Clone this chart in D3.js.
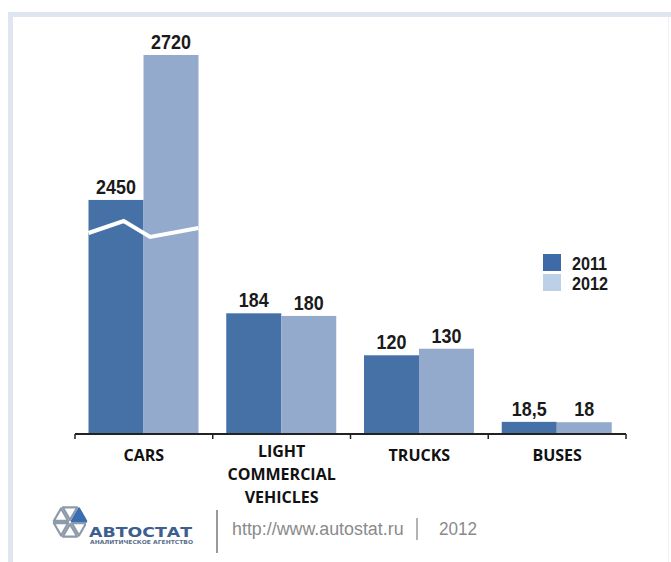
<!DOCTYPE html>
<html><head><meta charset="utf-8">
<script src="https://cdn.jsdelivr.net/npm/d3@7"></script>
<style>
html,body{margin:0;padding:0;background:#fff;}
svg{display:block;}
.val{font-family:"Liberation Sans",Arial,sans-serif;font-weight:700;fill:#1a1a1a;}
.cat{font-family:"Open Sans",sans-serif;font-weight:700;fill:#111;}
</style></head>
<body>
<svg id="chart" width="671" height="562"></svg>
<script>
// ---- data ----
const categories = ["CARS", "LIGHT COMMERCIAL VEHICLES", "TRUCKS", "BUSES"];
const categoryLines = [["CARS"], ["LIGHT", "COMMERCIAL", "VEHICLES"], ["TRUCKS"], ["BUSES"]];
const series = ["2011", "2012"];
const values2011 = [2450, 184, 120, 18.5];
const values2012 = [2720, 180, 130, 18];
const valueLabels2011 = ["2450", "184", "120", "18,5"];
const valueLabels2012 = ["2720", "180", "130", "18"];
const footerUrl = "http://www.autostat.ru";
const footerYear = "2012";

const colors = {"2011": "#4671a6", "2012": "#93aacd"};
const legendColors = {"2011": "#3f6aa8", "2012": "#bcd0e8"};

const svg = d3.select("#chart");
svg.append("rect").attr("width", 671).attr("height", 562).attr("fill", "#fff");

// frame
svg.append("rect").attr("x", 8).attr("y", 12).attr("width", 663).attr("height", 5).attr("fill", "#dfe6ef");
svg.append("rect").attr("x", 8).attr("y", 12).attr("width", 5).attr("height", 550).attr("fill", "#dfe6ef");
svg.append("rect").attr("x", 668).attr("y", 17).attr("width", 1).attr("height", 545).attr("fill", "#eef2f7");

// scales (broken value axis: lower segment and upper segment)
const x0 = d3.scaleBand().domain(categories).range([75, 626]).paddingInner(0).paddingOuter(0);
const x1 = d3.scaleBand().domain(series).range([13.5, 123.5]).padding(0);
const y = d3.scaleLinear().domain([0, 311, 2394, 2720]).range([434, 230, 230, 55]);

const rows = categories.map((c, i) => ({
  cat: c,
  vals: [
    {s: "2011", v: values2011[i], label: valueLabels2011[i]},
    {s: "2012", v: values2012[i], label: valueLabels2012[i]}
  ]
}));

const g = svg.append("g");
const groups = g.selectAll("g.grp").data(rows).join("g")
  .attr("class", "grp")
  .attr("transform", d => `translate(${x0(d.cat)},0)`);

groups.selectAll("rect").data(d => d.vals).join("rect")
  .attr("x", d => x1(d.s))
  .attr("y", d => y(d.v))
  .attr("width", x1.bandwidth())
  .attr("height", d => y(0) - y(d.v))
  .attr("fill", d => colors[d.s]);

groups.selectAll("text.val").data(d => d.vals).join("text")
  .attr("class", "val")
  .attr("transform", d => `translate(${x1(d.s) + x1.bandwidth() / 2},${y(d.v) - 6}) scale(0.92,1)`)
  .attr("text-anchor", "middle")
  .attr("font-size", 19.5)
  .text(d => d.label);

// axis break marker on CARS
const carsX = x0(categories[0]) + x1.range()[0];
const gw = x1.range()[1] - x1.range()[0];
const yb = y(311);
const breakPts = [[0, 3], [0.32, -9], [0.56, 7], [1, -2]];
svg.append("path")
  .attr("d", d3.line()(breakPts.map(p => [carsX + p[0] * gw, yb + p[1]])))
  .attr("fill", "none").attr("stroke", "#fff").attr("stroke-width", 4);

// x axis
const axis = svg.append("g").attr("transform", `translate(0,${y(0)})`);
axis.append("line").attr("x1", x0.range()[0]).attr("x2", x0.range()[1]).attr("y1", 0).attr("y2", 0)
  .attr("stroke", "#222").attr("stroke-width", 2);
const tickXs = categories.map(c => x0(c)).concat([x0.range()[1]]);
axis.selectAll("line.tick").data(tickXs).join("line").attr("class", "tick")
  .attr("x1", d => d).attr("x2", d => d).attr("y1", 0).attr("y2", 5)
  .attr("stroke", "#222").attr("stroke-width", 1.5);

// category labels
categoryLines.forEach((lines, i) => {
  const cx = x0(categories[i]) + x0.bandwidth() / 2;
  const base = lines.length > 1 ? 457 : 461;
  lines.forEach((t, j) => {
    svg.append("text").attr("class", "cat")
      .attr("x", cx).attr("y", base + j * 23)
      .attr("text-anchor", "middle").attr("font-size", 16)
      .text(t);
  });
});

// legend
const leg = svg.append("g").attr("transform", "translate(543,254)");
series.forEach((s, i) => {
  leg.append("rect").attr("x", 0).attr("y", i * 20).attr("width", 18).attr("height", 17).attr("fill", legendColors[s]);
  leg.append("text").attr("class", "val")
    .attr("transform", `translate(29,${i * 20 + 16}) scale(0.9,1)`)
    .attr("font-size", 18).text(s);
});

// footer logo
const lg = svg.append("g");
const hc = [70, 522], R = 18;
const hv = d3.range(6).map(k => [hc[0] + R * Math.cos(-k * Math.PI / 3), hc[1] + R * Math.sin(-k * Math.PI / 3)]);
d3.range(6).forEach(k => {
  const a = hv[k], b = hv[(k + 1) % 6];
  const cen = [(a[0] + b[0] + hc[0]) / 3, (a[1] + b[1] + hc[1]) / 3];
  const sh = p => [cen[0] + (p[0] - cen[0]) * 0.8, cen[1] + (p[1] - cen[1]) * 0.8];
  const pts = [sh(hc), sh(a), sh(b)];
  lg.append("path").attr("d", "M" + pts.join("L") + "Z")
    .attr("fill", k === 0 ? "#3b6eb0" : "none")
    .attr("stroke", k === 0 ? "#3b6eb0" : "#8d9aaa").attr("stroke-width", 2.2).attr("stroke-linejoin", "round");
});
lg.append("rect").attr("x", 86).attr("y", 523).attr("width", 110).attr("height", 24).attr("fill", "#fff");
lg.append("text").attr("x", 89).attr("y", 537).attr("font-family", "DejaVu Sans, sans-serif")
  .attr("font-weight", 700).attr("font-size", 14).attr("fill", "#3c5f8e")
  .attr("textLength", 103).attr("lengthAdjust", "spacingAndGlyphs").text("АВТОСТАТ");
lg.append("text").attr("x", 90).attr("y", 544).attr("font-family", "DejaVu Sans, sans-serif")
  .attr("font-weight", 700).attr("font-size", 5.5).attr("fill", "#5a6f8c")
  .attr("textLength", 103).attr("lengthAdjust", "spacingAndGlyphs").text("АНАЛИТИЧЕСКОЕ АГЕНТСТВО");

svg.append("line").attr("x1", 217).attr("x2", 217).attr("y1", 510).attr("y2", 553).attr("stroke", "#9a9a9a").attr("stroke-width", 2);
svg.append("text").attr("transform", "translate(232,535) scale(0.94,1)").attr("font-family", "Liberation Sans, sans-serif")
  .attr("font-size", 19).attr("fill", "#8a8a8a").text(footerUrl);
svg.append("line").attr("x1", 417).attr("x2", 417).attr("y1", 518).attr("y2", 540).attr("stroke", "#9a9a9a").attr("stroke-width", 1.5);
svg.append("text").attr("transform", "translate(439,535) scale(0.9,1)").attr("font-family", "Liberation Sans, sans-serif")
  .attr("font-size", 19).attr("fill", "#8a8a8a").text(footerYear);
</script>
</body></html>
